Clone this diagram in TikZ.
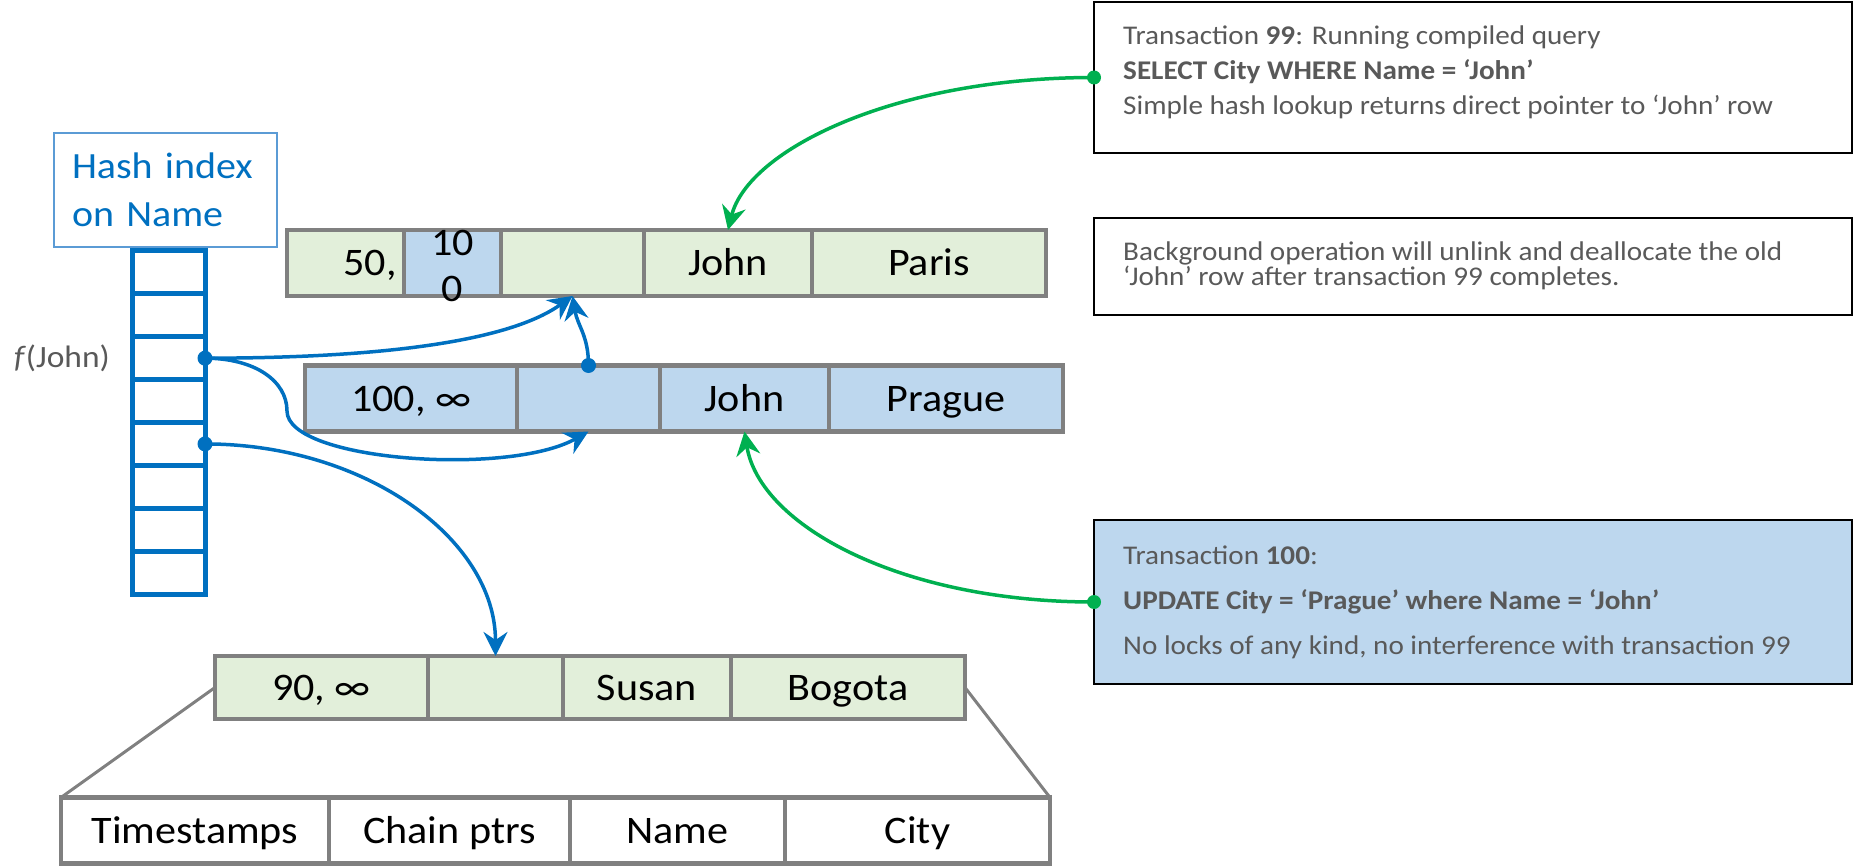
\documentclass[tikz,border=0pt]{standalone}
\usepackage{fontspec}
\setmainfont{Carlito}[FakeStretch=1.08]
\usetikzlibrary{arrows.meta,positioning}

\definecolor{rowgreen}{HTML}{E2EFDA}
\definecolor{rowblue}{HTML}{BDD7EE}
\definecolor{rowgray}{HTML}{808080}
\definecolor{idxblue}{HTML}{0070C0}
\definecolor{lblblue}{HTML}{5B9BD5}
\definecolor{txtgray}{HTML}{595959}
\definecolor{ptrgreen}{HTML}{00B050}

\newcommand{\cellfont}{\fontsize{39}{46}\selectfont}

\tikzset{
  cell/.style={draw=rowgray, line width=4.5pt, minimum height=66pt, inner sep=0pt, outer sep=0pt, anchor=west,
               text height=25pt, text depth=0pt, font=\cellfont},
  celltext/.style={inner sep=0pt, font=\cellfont, align=center},
  bucket/.style={draw=idxblue, line width=5pt, minimum width=73pt, minimum height=42.875pt, inner sep=0pt, outer sep=0pt},
  notebox/.style={draw=black, line width=2.5pt, anchor=north west, minimum width=758pt, inner sep=0pt, outer sep=0pt},
  notetext/.style={anchor=west, inner sep=0pt, align=left, text=txtgray},
  ptr/.style={draw=idxblue, line width=3.5pt, -{Stealth[length=24pt,width=24pt,inset=8pt]}},
  gptr/.style={ptr, draw=ptrgreen},
  zoomline/.style={draw=rowgray, line width=3pt}
}

\begin{document}
\begin{tikzpicture}[x=1pt,y=-1pt]
\useasboundingbox (0,0) rectangle (1854,866);

% Hash index label
\node[draw=lblblue, line width=1.8pt, minimum width=223pt, minimum height=114pt,
      text width=187pt, inner xsep=18pt, align=left, text=idxblue,
      font=\fontsize{37}{48}\selectfont] (hashlbl) at (165.5,190) {Hash index\\on Name};

% Hash buckets
\foreach \i in {1,...,8}
  \node[bucket] (hb\i) at (168.5,{251+42.875*(\i-0.5)}) {};
\node[inner sep=0pt, text=txtgray, font=\fontsize{31}{36}\selectfont, left=22pt of hb3] (fjohn) {\textit{f}(John)};

% Old John row (transaction 99 version)
\node[cell, fill=rowgreen, minimum width=117pt] (oldts) at (287,263) {};
\node[cell, fill=rowblue, minimum width=97pt, right=0pt of oldts] (oldend) {};
\node[cell, fill=rowgreen, minimum width=143pt, right=0pt of oldend] (oldptr) {};
\node[cell, fill=rowgreen, minimum width=168pt, right=0pt of oldptr] (oldname) {John};
\node[cell, fill=rowgreen, minimum width=234pt, right=0pt of oldname] (oldcity) {Paris};
\node[celltext, anchor=east, text height=25pt, text depth=0pt] (oldtstxt) at ([xshift=-7pt]oldts.east) {50,};
\node[celltext] (oldendtxt) at ([yshift=-3pt]oldend.center) {10\\0};

% New John row (transaction 100 version)
\node[cell, fill=rowblue, minimum width=212pt] (newts) at (305,398.5) {100, ∞};
\node[cell, fill=rowblue, minimum width=143pt, right=0pt of newts] (newptr) {};
\node[cell, fill=rowblue, minimum width=169pt, right=0pt of newptr] (newname) {John};
\node[cell, fill=rowblue, minimum width=234pt, right=0pt of newname] (newcity) {Prague};

% Susan row
\node[cell, fill=rowgreen, minimum width=213pt, minimum height=63pt] (susts) at (215,687.5) {90, ∞};
\node[cell, fill=rowgreen, minimum width=135pt, minimum height=63pt, right=0pt of susts] (susptr) {};
\node[cell, fill=rowgreen, minimum width=168pt, minimum height=63pt, right=0pt of susptr] (susname) {Susan};
\node[cell, fill=rowgreen, minimum width=234pt, minimum height=63pt, right=0pt of susname] (suscity) {Bogota};

% Row layout legend
\node[cell, fill=white, minimum width=268pt] (legts) at (61,830.5) {Timestamps};
\node[cell, fill=white, minimum width=241pt, right=0pt of legts] (legptr) {Chain ptrs};
\node[cell, fill=white, minimum width=215pt, right=0pt of legptr] (legname) {Name};
\node[cell, fill=white, minimum width=265pt, right=0pt of legname] (legcity) {City};
\draw[zoomline] (susts.west) -- (legts.north west);
\draw[zoomline] (suscity.east) -- (legcity.north east);

% Notes
\node[notebox, minimum height=151pt] (q99box) at (1094,2) {};
\node[notetext, font=\fontsize{27}{35}\selectfont] (q99txt) at (1123,72) {Transaction \textbf{99}: Running compiled query\\
  \textbf{SELECT City WHERE Name = `John'}\\
  Simple hash lookup returns direct pointer to `John' row};
\node[notebox, minimum height=97pt] (gcbox) at (1094,218) {};
\node[notetext, font=\fontsize{27}{25}\selectfont] (gctxt) at (1123,266) {Background operation will unlink and deallocate the old\\
  `John' row after transaction 99 completes.};
\node[notebox, fill=rowblue, minimum height=164pt] (q100box) at (1094,520) {};
\node[notetext, font=\fontsize{27}{45}\selectfont] (q100txt) at (1123,602) {Transaction \textbf{100}:\\
  \textbf{UPDATE City = `Prague' where Name = `John'}\\
  No locks of any kind, no interference with transaction 99};

% Pointers from the hash index and the version chain
\coordinate (bend) at (287,411);
\draw[ptr] (hb3.east) .. controls +(150,0) and +(-70,50) .. (oldptr.south);
\draw[ptr] (newptr.north) .. controls +(0,-30) and +(5,30) .. (oldptr.south);
\draw[ptr] (hb3.east) .. controls +(50,0) and +(0,-30) .. (bend) .. controls +(0,50) and +(-80,45) .. (newptr.south);
\draw[ptr] (hb5.east) .. controls +(160,0) and +(0,-117) .. (susptr.north);
\fill[idxblue] (hb3.east) circle (7.5pt) (hb5.east) circle (7.5pt) (newptr.north) circle (7.5pt);

% Transactions reading and writing
\draw[gptr] (q99box.west) .. controls +(-200,0) and +(20,-80) .. (oldname.north);
\draw[gptr] (q100box.west) .. controls +(-193,0) and +(15,94) .. (newname.south);
\fill[ptrgreen] (q99box.west) circle (7pt) (q100box.west) circle (7pt);
\end{tikzpicture}
\end{document}
